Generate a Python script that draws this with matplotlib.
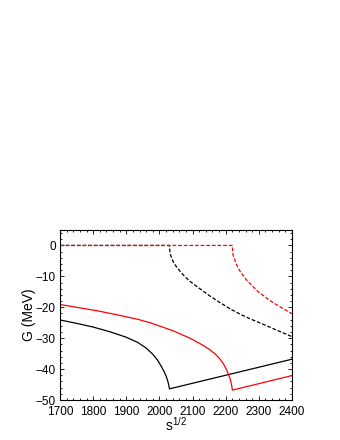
import matplotlib
matplotlib.use("Agg")
import matplotlib.pyplot as plt
from matplotlib.ticker import MultipleLocator

plt.rcParams['font.family'] = ['Liberation Sans', 'DejaVu Sans']

black_re_s = [1700, 1750, 1800, 1850, 1900, 1935, 1960, 1980, 1995, 2006, 2015, 2021, 2026, 2029, 2030, 2400]
black_re_g = [-24.1, -25.2, -26.4, -27.9, -29.7, -31.4, -33.2, -35.2, -37.2, -39.2, -41.0, -42.5, -44.2, -45.6, -46.4, -36.8]

red_re_s = [1700, 1750, 1815, 1875, 1935, 1972, 2041, 2092, 2125, 2153, 2170, 2183, 2193, 2203, 2208, 2213, 2218, 2220, 2400]
red_re_g = [-19.1, -20.0, -21.2, -22.5, -23.9, -25.0, -27.6, -30.0, -31.9, -33.8, -35.3, -36.8, -38.3, -40.3, -41.6, -43.0, -45.3, -46.8, -42.1]

# imaginary parts (dashed)
black_im_s = [1700, 2030, 2032, 2036, 2042, 2052, 2062, 2077, 2092, 2122, 2153, 2183, 2213, 2243, 2273, 2313, 2354, 2400]
black_im_g = [0, 0, -2.5, -3.8, -5.4, -7.0, -8.3, -10.1, -11.6, -14.0, -16.4, -18.5, -20.5, -22.2, -23.7, -25.5, -27.4, -29.5]

red_im_s = [1700, 2220, 2222, 2229, 2237, 2247, 2262, 2277, 2297, 2317, 2337, 2363, 2389, 2400]
red_im_g = [0, 0, -3.0, -5.2, -7.3, -8.9, -11.1, -12.7, -14.9, -16.5, -18.1, -19.8, -21.4, -22.1]

fig = plt.figure(figsize=(3.4, 4.4), dpi=100)
ax = fig.add_axes([0.1765, 0.0909, 0.6823, 0.3864])

lw = 0.9
ax.plot(black_im_s, black_im_g, color='black', lw=lw, dashes=(3, 1.5))
ax.plot(red_im_s, red_im_g, color='red', lw=lw, dashes=(3, 1.5))
ax.plot(black_re_s, black_re_g, color='black', lw=lw)
ax.plot(red_re_s, red_re_g, color='red', lw=lw)

ax.set_xlim(1700, 2400)
ax.set_ylim(-50, 5)
ax.xaxis.set_major_locator(MultipleLocator(100))
ax.xaxis.set_minor_locator(MultipleLocator(20))
ax.yaxis.set_major_locator(MultipleLocator(10))
ax.yaxis.set_minor_locator(MultipleLocator(2))
ax.tick_params(which='both', direction='in', top=True, right=True, labelsize=8.5, width=0.6)
ax.tick_params(axis='x', pad=4.5)
ax.tick_params(axis='y', pad=3)
ax.tick_params(which='major', length=3)
ax.tick_params(which='minor', length=1.5)
for sp in ax.spines.values():
    sp.set_linewidth(0.8)

ax.set_xlabel(r'$\mathregular{s^{1/2}}$', fontsize=10, labelpad=-1.5)
ax.set_ylabel('G (MeV)', fontsize=10, labelpad=0)

fig.savefig('out.png', dpi=100)
